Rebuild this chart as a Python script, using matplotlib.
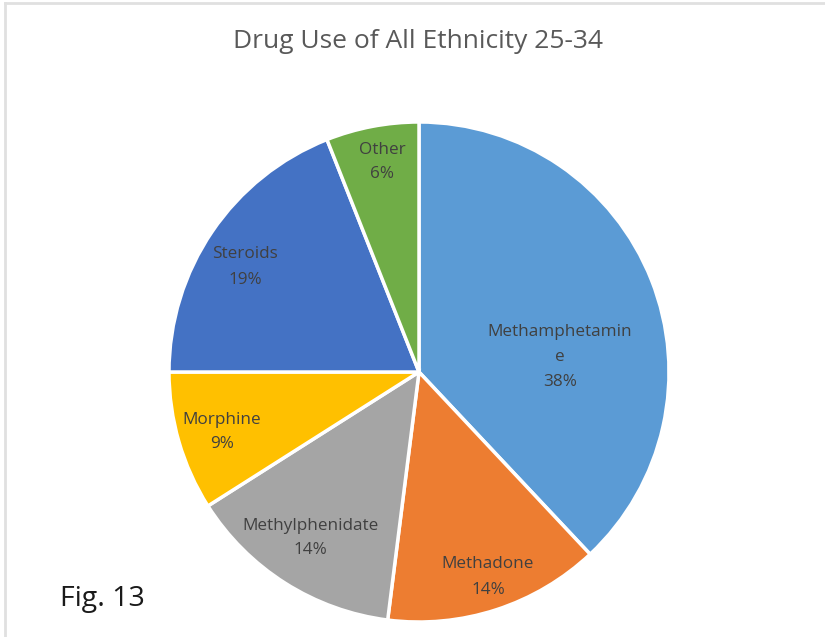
import matplotlib
matplotlib.use("Agg")
import matplotlib.pyplot as plt
from matplotlib.lines import Line2D

# data
drugs = ["Methamphetamin\ne", "Methadone", "Methylphenidate", "Morphine", "Steroids", "Other"]
shares = [38, 14, 14, 9, 19, 6]
colors = ["#5B9BD5", "#ED7D31", "#A5A5A5", "#FFC000", "#4472C4", "#70AD47"]

# where excel put the labels (in units of the radius)
label_pos = [(0.564, 0.06), (0.276, -0.82), (-0.436, -0.664),
             (-0.788, -0.24), (-0.696, 0.42), (-0.148, 0.84)]

plt.rcParams["font.family"] = ["Open Sans", "DejaVu Sans"]

fig = plt.figure(figsize=(8.25, 6.37), dpi=100)
ax = fig.add_axes([169/825, 15/637, 500/825, 500/637])

wedges, _ = ax.pie(shares, colors=colors, startangle=90, counterclock=False,
                   radius=1.0, wedgeprops=dict(edgecolor="white", linewidth=2.5))
ax.set_xlim(-1, 1)
ax.set_ylim(-1, 1)
ax.set_aspect("equal")
ax.axis("off")

for name, val, (x, y) in zip(drugs, shares, label_pos):
    ax.text(x, y, "%s\n%d%%" % (name, val), ha="center", va="center",
            fontsize=12.3, color="#404040", linespacing=1.75)

fig.text(418/825, 1 - 42/637, "Drug Use of All Ethnicity 25-34", ha="center", va="center",
         fontsize=19, color="#595959")
fig.text(60/825, 1 - 599/637, "Fig. 13", ha="left", va="center", fontsize=20.5, color="#1a1a1a")

# thin grey frame on top and left
fig.add_artist(Line2D([5/825, 1], [1 - 3/637, 1 - 3/637], transform=fig.transFigure, color="#e0e0e0", lw=2))
fig.add_artist(Line2D([5/825, 5/825], [0, 1 - 3/637], transform=fig.transFigure, color="#e0e0e0", lw=2))

fig.savefig("out.png", dpi=100)
